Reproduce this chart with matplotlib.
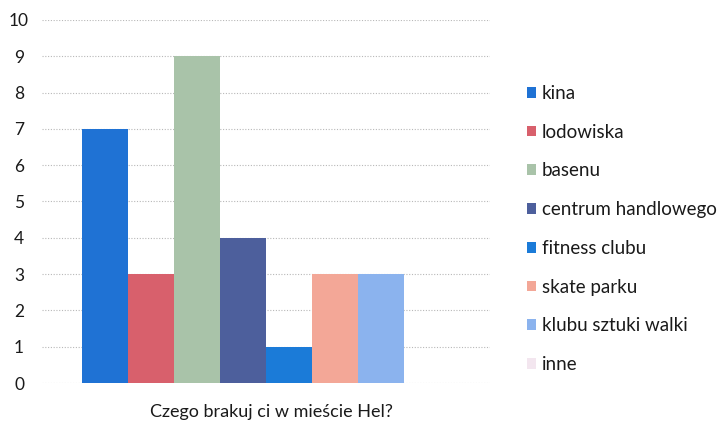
import matplotlib
matplotlib.use("Agg")
import matplotlib.pyplot as plt
from matplotlib.patches import Patch

# survey answers: what is missing in Hel
categories = ["kina", "lodowiska", "basenu", "centrum handlowego",
              "fitness clubu", "skate parku", "klubu sztuki walki", "inne"]
counts = [7, 3, 9, 4, 1, 3, 3, 0]
colors = ["#1f72d4", "#d8606c", "#a9c3a9", "#4d5f9c",
          "#1b7bd8", "#f3a797", "#8bb3ee", "#f3e6ef"]
yticks = list(range(0, 11))
xlabel = "Czego brakuj ci w mieście Hel?"

plt.rcParams['font.family'] = ['Lato', 'DejaVu Sans']

fig = plt.figure(figsize=(7.28, 4.32), dpi=100)
ax = fig.add_axes([42/728, 1 - 383/432, (490-42)/728, (383-20)/432])

n = len(categories)
w = 0.82 / n
x0 = -0.41 + w/2
for i, (c, v, col) in enumerate(zip(categories, counts, colors)):
    ax.bar(x0 + i*w, v, width=w, color=col, zorder=2)

ax.set_xlim(-0.5, 0.5)
ax.set_ylim(0, 10)
ax.set_yticks(yticks)
ax.set_xticks([])
ax.tick_params(axis='y', length=0, pad=16.5, labelsize=12.5, labelcolor="#1a1a1a")
for t in ax.get_yticklabels():
    t.set_horizontalalignment('center')
ax.grid(axis='y', color="#b8b8b8", linestyle=(0, (1, 1.5)), linewidth=0.8, zorder=0)
for s in ax.spines.values():
    s.set_visible(False)
ax.set_xlabel(xlabel, fontsize=13, color="#1a1a1a")
ax.xaxis.set_label_coords(0.513, -0.058, transform=ax.transAxes)
ax.xaxis.label.set_verticalalignment('top')

handles = [Patch(facecolor=col, edgecolor='none') for col in colors]
fig.legend(handles, categories, loc='upper left', bbox_to_anchor=(510/728, 1 - 68/432),
           frameon=False, fontsize=13.5, handlelength=0.5, handleheight=0.5,
           handletextpad=0.3, labelspacing=1.16, labelcolor="#1a1a1a")

fig.savefig("out.png", dpi=100)
